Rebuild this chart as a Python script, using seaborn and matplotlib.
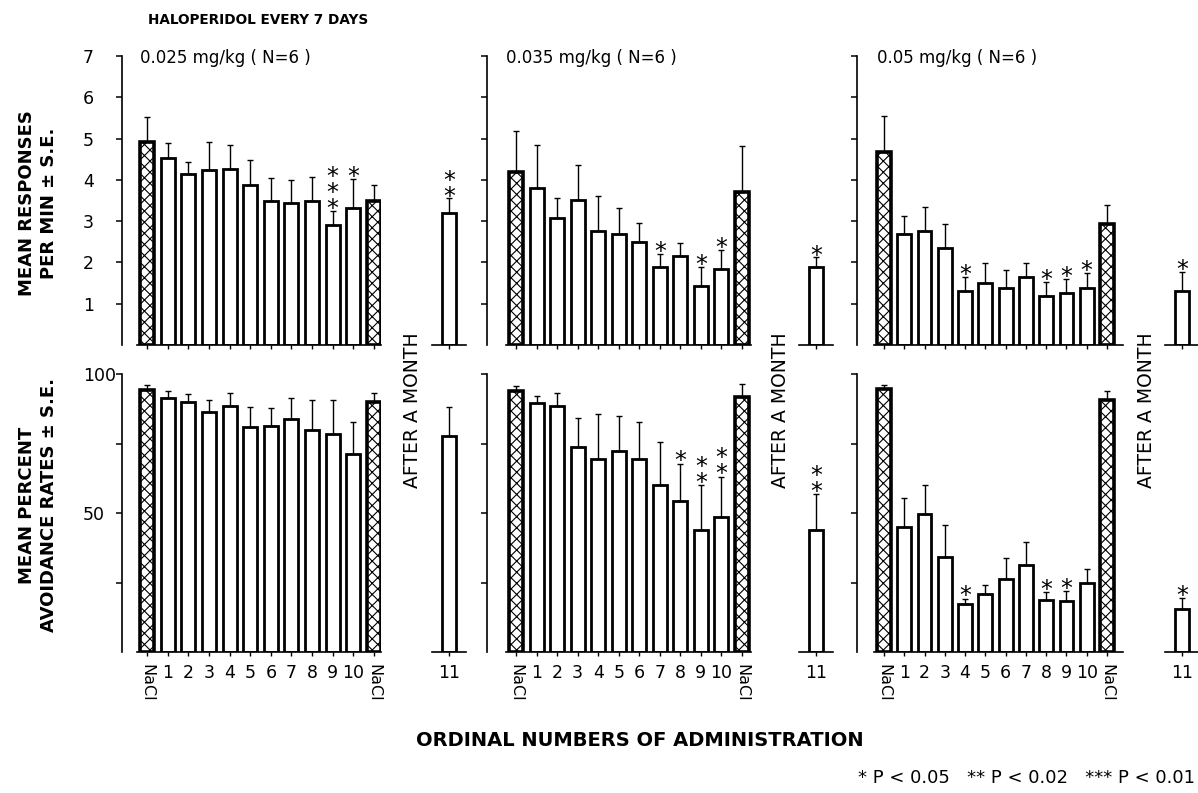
import numpy as np
import matplotlib
matplotlib.use("Agg")
import matplotlib.pyplot as plt
import seaborn as sns

sns.set_theme(style="ticks")
plt.rcParams['font.family'] = ['DejaVu Sans']
plt.rcParams['hatch.linewidth'] = 0.8
plt.rcParams['hatch.color'] = 'black'
for key in ['text.color', 'axes.labelcolor', 'xtick.color', 'ytick.color', 'axes.edgecolor']:
    plt.rcParams[key] = 'black'

# ---------------- data ----------------
categories = ["NaCl", "1", "2", "3", "4", "5", "6", "7", "8", "9", "10", "NaCl"]
month_label = "11"
dose_labels = ["0.025 mg/kg ( N=6 )", "0.035 mg/kg ( N=6 )", "0.05 mg/kg ( N=6 )"]

# responses per min (top row): means, SE, and after-a-month bar [mean, SE]
resp_025_mean = [4.92, 4.54, 4.15, 4.25, 4.27, 3.87, 3.49, 3.43, 3.49, 2.90, 3.32, 3.49]
resp_025_se = [0.60, 0.36, 0.28, 0.67, 0.58, 0.62, 0.56, 0.57, 0.58, 0.35, 0.71, 0.38]
resp_025_month = [3.20, 0.35]
resp_025_stars = {9: 3, 10: 1, "month": 2}

resp_035_mean = [4.19, 3.81, 3.07, 3.51, 2.77, 2.68, 2.49, 1.90, 2.16, 1.44, 1.84, 3.71]
resp_035_se = [1.00, 1.04, 0.48, 0.86, 0.84, 0.63, 0.47, 0.31, 0.30, 0.46, 0.46, 1.12]
resp_035_month = [1.90, 0.22]
resp_035_stars = {7: 1, 9: 1, 10: 1, "month": 1}

resp_05_mean = [4.68, 2.68, 2.77, 2.34, 1.30, 1.50, 1.38, 1.65, 1.18, 1.25, 1.38, 2.92]
resp_05_se = [0.86, 0.45, 0.57, 0.58, 0.35, 0.48, 0.43, 0.33, 0.35, 0.35, 0.36, 0.46]
resp_05_month = [1.32, 0.45]
resp_05_stars = {4: 1, 8: 1, 9: 1, 10: 1, "month": 1}

# avoidance rates (bottom row)
avoid_025_mean = [94.4, 91.3, 90.1, 86.5, 88.6, 81.1, 81.4, 83.9, 79.7, 78.5, 71.2, 90.1]
avoid_025_se = [1.8, 2.5, 2.7, 4.0, 4.5, 7.2, 6.3, 7.4, 10.8, 12.2, 11.7, 3.0]
avoid_025_month = [77.8, 10.3]
avoid_025_stars = {}

avoid_035_mean = [93.9, 89.4, 88.6, 73.8, 69.6, 72.4, 69.6, 60.0, 54.4, 43.9, 48.4, 91.8]
avoid_035_se = [1.7, 2.8, 4.4, 10.4, 16.0, 12.4, 13.0, 15.7, 13.4, 16.1, 14.7, 4.6]
avoid_035_month = [43.9, 12.9]
avoid_035_stars = {8: 1, 9: 2, 10: 2, "month": 2}

avoid_05_mean = [94.5, 44.8, 49.6, 34.2, 17.4, 20.8, 26.2, 31.2, 18.6, 18.4, 25.0, 90.6]
avoid_05_se = [1.5, 10.7, 10.4, 11.4, 1.8, 3.4, 7.7, 8.4, 3.0, 3.6, 4.8, 3.4]
avoid_05_month = [15.4, 4.0]
avoid_05_stars = {4: 1, 8: 1, 9: 1, "month": 1}

# ---------------- layout ----------------
W, H = 1198, 793
fig = plt.figure(figsize=(W / 100, H / 100), dpi=100)

def fx(px):
    return px / W

def fy(py):
    return 1 - py / H

# spine x, first bar centre, last bar centre, baseline end, month bar centre
panel_px = [(122, 147, 374, 381, 449), (487, 516, 742, 751, 816), (857, 884, 1107, 1123, 1182)]
row_px = [(56, 345), (374, 652)]

rows = [
    [(resp_025_mean, resp_025_se, resp_025_month, resp_025_stars),
     (resp_035_mean, resp_035_se, resp_035_month, resp_035_stars),
     (resp_05_mean, resp_05_se, resp_05_month, resp_05_stars)],
    [(avoid_025_mean, avoid_025_se, avoid_025_month, avoid_025_stars),
     (avoid_035_mean, avoid_035_se, avoid_035_month, avoid_035_stars),
     (avoid_05_mean, avoid_05_se, avoid_05_month, avoid_05_stars)],
]
ylims = [(0, 7), (0, 100)]
yticks = [list(range(1, 8)), [25, 50, 75, 100]]
yticklabels = [[str(v) for v in range(1, 8)], ["", "50", "", "100"]]

BAR_W = 0.68
FS = 11


def draw_stars(ax, x, top, n, yr):
    if n <= 0:
        return
    ax.text(x, top - 0.035 * yr, "\n".join(["*"] * n), ha="center", va="bottom",
            fontsize=17, linespacing=0.58, color="black")


def style_bars(ax, hatched_idx):
    for i, p in enumerate(ax.patches):
        p.set_facecolor("white")
        p.set_edgecolor("black")
        p.set_linewidth(2.0)
        if i in hatched_idx:
            p.set_hatch("xxx")
            p.set_linewidth(2.6)


for r, row in enumerate(rows):
    top_px, bot_px = row_px[r]
    yr = ylims[r][1] - ylims[r][0]
    for c, (means, se, month, stars) in enumerate(row):
        spine, first, last, end, mcen = panel_px[c]
        spacing = (last - first) / 11.0
        ax = fig.add_axes([fx(spine), fy(bot_px), fx(end - spine), (bot_px - top_px) / H])
        x = np.arange(len(means))
        sns.barplot(x=x, y=means, ax=ax, color="white", width=BAR_W, errorbar=None,
                    saturation=1)
        style_bars(ax, {0, len(means) - 1})
        ax.errorbar(x, means, yerr=[np.zeros(len(se)), se], fmt="none", ecolor="black",
                    elinewidth=1.0, capsize=2.5, capthick=1.0, zorder=3)
        for k, n in stars.items():
            if k == "month":
                continue
            draw_stars(ax, k, means[k] + se[k], n, yr)
        ax.set_xlim(-(first - spine) / spacing, 11 + (end - last) / spacing)
        ax.set_ylim(*ylims[r])
        for s in ["top", "right"]:
            ax.spines[s].set_visible(False)
        ax.spines["bottom"].set_bounds(-0.5, 11 + (end - last) / spacing)
        ax.spines["left"].set_linewidth(1.2)
        ax.spines["bottom"].set_linewidth(1.2)
        ax.set_yticks(yticks[r])
        if c == 0:
            ax.set_yticklabels(yticklabels[r], fontsize=FS + 1.5)
            for lbl in ax.get_yticklabels():
                lbl.set_horizontalalignment("left")
        else:
            ax.set_yticklabels([])
        ax.set_xticks(x)
        if r == 1:
            ax.set_xticklabels(categories, fontsize=FS + 1.5)
            for lbl in ax.get_xticklabels():
                if lbl.get_text() == "NaCl":
                    lbl.set_rotation(-90)
                    lbl.set_fontsize(FS + 0.5)
        else:
            ax.set_xticklabels([])
        ax.tick_params(axis="y", direction="out", length=4, width=1.1, pad=24)
        ax.tick_params(axis="x", direction="out", length=3, width=1.0, pad=6)
        ax.set_xlabel("")
        ax.set_ylabel("")
        ax.patch.set_alpha(0)

        # after-a-month bar
        half = 17
        axm = fig.add_axes([fx(mcen - half), fy(bot_px), fx(2 * half), (bot_px - top_px) / H])
        sns.barplot(x=[month_label], y=[month[0]], ax=axm, color="white", width=BAR_W,
                    errorbar=None, saturation=1)
        style_bars(axm, set())
        axm.errorbar([0], [month[0]], yerr=[[0], [month[1]]], fmt="none", ecolor="black",
                     elinewidth=1.0, capsize=2.5, capthick=1.0, zorder=3)
        if "month" in stars:
            draw_stars(axm, 0, month[0] + month[1], stars["month"], yr)
        axm.set_xlim(-half / spacing, half / spacing)
        axm.set_ylim(*ylims[r])
        for s in ["top", "right", "left"]:
            axm.spines[s].set_visible(False)
        axm.spines["bottom"].set_linewidth(1.2)
        axm.set_yticks([])
        axm.set_xticks([0])
        if r == 1:
            axm.set_xticklabels([month_label], fontsize=FS + 1.5)
        else:
            axm.set_xticklabels([])
        axm.tick_params(axis="x", direction="out", length=3, width=1.0, pad=6)
        axm.set_xlabel("")
        axm.set_ylabel("")
        axm.patch.set_alpha(0)

        if r == 0:
            fig.text(fx([140, 506, 877][c]), fy(58), dose_labels[c], fontsize=12,
                     ha="left", va="center")

# "AFTER A MONTH" labels
for xp in [412, 781, 1146]:
    fig.text(fx(xp), fy(410), "AFTER A MONTH", rotation=90, ha="center", va="center",
             fontsize=13.5)

# titles and axis labels
fig.text(fx(148), fy(20), "HALOPERIDOL EVERY 7 DAYS", fontsize=9.8, fontweight="bold",
         ha="left", va="center")
fig.text(fx(38), fy(203), "MEAN RESPONSES\nPER MIN \u00b1 S.E.", rotation=90, ha="center",
         va="center", fontsize=13, fontweight="bold", linespacing=1.3, multialignment="center")
fig.text(fx(38), fy(505), "MEAN PERCENT\nAVOIDANCE RATES \u00b1 S.E.", rotation=90,
         ha="center", va="center", fontsize=13, fontweight="bold", linespacing=1.3,
         multialignment="center")
fig.text(fx(640), fy(741), "ORDINAL NUMBERS OF ADMINISTRATION", fontsize=14,
         fontweight="bold", ha="center", va="center")
fig.text(fx(1195), fy(778), "* P < 0.05   ** P < 0.02   *** P < 0.01", fontsize=13,
         ha="right", va="center")

fig.savefig("out.png", dpi=100, facecolor="white")
